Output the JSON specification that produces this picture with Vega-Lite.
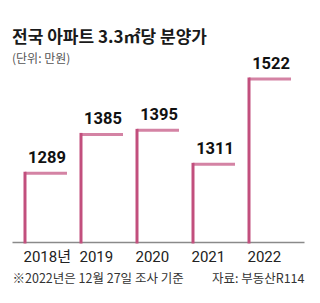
{
  "$schema": "https://vega.github.io/schema/vega-lite/v6.json",
  "width": 292,
  "height": 163,
  "autosize": {"type": "none"},
  "padding": {"left": 12, "top": 79, "right": 16, "bottom": 61},
  "background": "white",
  "title": {
    "text": "전국 아파트 3.3㎡당 분양가",
    "subtitle": "(단위: 만원)",
    "anchor": "start",
    "frame": "group",
    "font": "Noto Sans CJK KR",
    "fontSize": 17,
    "fontWeight": "bold",
    "color": "#1a1a1a",
    "subtitleFont": "Noto Sans CJK KR",
    "subtitleFontSize": 12,
    "subtitleColor": "#555555",
    "subtitlePadding": 7,
    "offset": -10
  },
  "data": {
    "values": [
      {"year": "2018", "price": 1289},
      {"year": "2019", "price": 1385},
      {"year": "2020", "price": 1395},
      {"year": "2021", "price": 1311},
      {"year": "2022", "price": 1522}
    ]
  },
  "layer": [
    {
      "mark": {"type": "rule", "color": "#c24f7d", "strokeWidth": 3, "strokeCap": "square"},
      "encoding": {
        "x": {
          "field": "year",
          "type": "ordinal",
          "bandPosition": 0.125,
          "scale": {"type": "band", "paddingInner": 0, "paddingOuter": 0.107},
          "axis": {
            "orient": "bottom",
            "labelAngle": 0,
            "labelAlign": "left",
            "labelOffset": -22.5,
            "labelBaseline": "alphabetic",
            "ticks": false,
            "tickSize": 0,
            "grid": false,
            "domain": true,
            "domainColor": "#8a8a8a",
            "domainWidth": 1.5,
            "labelFont": "Roboto, Noto Sans CJK KR, sans-serif",
            "labelFontSize": 15,
            "labelColor": "#222222",
            "labelPadding": 19,
            "labelExpr": "datum.value == '2018' ? '2018년' : datum.label",
            "title": "※2022년은 12월 27일 조사 기준",
            "titleAnchor": "start",
            "titleAlign": "left",
            "titleFont": "Noto Sans CJK KR, sans-serif",
            "titleFontSize": 12.5,
            "titleFontWeight": "normal",
            "titleColor": "#333333",
            "titleY": 40,
            "titleBaseline": "alphabetic"
          }
        },
        "y": {
          "field": "price",
          "type": "quantitative",
          "scale": {"domain": [1119, 1522], "zero": false, "nice": false},
          "axis": null
        },
        "y2": {"datum": 1119}
      }
    },
    {
      "mark": {"type": "tick", "color": "#c24f7d", "thickness": 3, "size": 42},
      "encoding": {
        "x": {
          "field": "year",
          "type": "ordinal",
          "axis": {
            "orient": "bottom",
            "labels": false,
            "ticks": false,
            "domain": false,
            "grid": false,
            "title": "자료: 부동산R114",
            "titleAnchor": "end",
            "titleAlign": "right",
            "titleFont": "Noto Sans CJK KR, sans-serif",
            "titleFontSize": 12.5,
            "titleFontWeight": "normal",
            "titleColor": "#333333",
            "titleY": 40,
            "titleBaseline": "alphabetic"
          }
        },
        "y": {"field": "price", "type": "quantitative"}
      }
    },
    {
      "mark": {
        "type": "text",
        "align": "right",
        "baseline": "alphabetic",
        "dy": -10,
        "dx": -1,
        "font": "Roboto, sans-serif",
        "fontSize": 16.5,
        "fontWeight": "bold",
        "color": "#111111"
      },
      "encoding": {
        "x": {"field": "year", "type": "ordinal", "bandPosition": 0.875, "axis": null},
        "y": {"field": "price", "type": "quantitative"},
        "text": {"field": "price", "type": "quantitative", "format": "d"}
      }
    }
  ],
  "resolve": {"axis": {"x": "independent"}},
  "config": {"view": {"stroke": null}}
}
